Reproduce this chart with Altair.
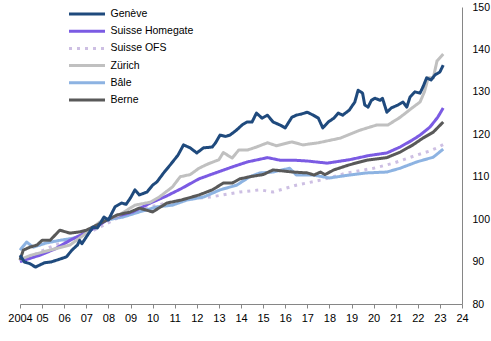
import altair as alt
import pandas as pd

series_names = ["Genève", "Suisse Homegate", "Suisse OFS", "Zürich", "Bâle", "Berne"]
series_colors = ["#1F4A7D", "#7B5BE3", "#CDBFE3", "#C0C0C0", "#8DB3E2", "#595959"]
series_dash = [[1, 0], [1, 0], [3, 5], [1, 0], [1, 0], [1, 0]]

geneve_t = [2004.0, 2004.2, 2004.45, 2004.7, 2005.1, 2005.4, 2005.7, 2006.1, 2006.35, 2006.6, 2006.7, 2006.8,
            2007.0, 2007.3, 2007.5, 2007.8, 2008.0, 2008.3, 2008.6, 2008.8, 2009.0, 2009.2, 2009.4, 2009.75,
            2010.0, 2010.2, 2010.5, 2010.8, 2011.15, 2011.4, 2011.7, 2012.0, 2012.3, 2012.7, 2012.85, 2013.05,
            2013.3, 2013.5, 2013.8, 2014.05, 2014.27, 2014.5, 2014.7, 2014.95, 2015.2, 2015.45, 2015.76, 2016.0,
            2016.3, 2016.5, 2016.75, 2017.0, 2017.27, 2017.5, 2017.7, 2017.95, 2018.2, 2018.4, 2018.6, 2018.9,
            2019.15, 2019.3, 2019.5, 2019.6, 2019.75, 2019.9, 2020.06, 2020.3, 2020.4, 2020.6, 2020.8, 2021.1,
            2021.33, 2021.5, 2021.65, 2021.87, 2022.1, 2022.23, 2022.4, 2022.6, 2022.78, 2023.0, 2023.15]
geneve_v = [91.5, 89.9, 89.5, 88.7, 89.7, 89.9, 90.4, 91.1, 92.7, 93.9, 95.0, 94.2,
            95.8, 98.1, 97.9, 100.5, 99.8, 102.9, 103.8, 103.5, 105.0, 106.9, 105.7, 106.4,
            108.0, 108.8, 110.9, 112.8, 115.1, 117.5, 116.8, 115.6, 116.8, 117.0, 118.0, 119.8,
            119.5, 119.8, 121.0, 122.2, 122.9, 122.9, 125.0, 123.8, 124.5, 122.9, 122.2, 121.5,
            124.0, 124.5, 124.8, 125.2, 124.5, 123.8, 121.5, 122.9, 123.8, 125.0, 124.5, 125.7,
            127.6, 130.4, 129.7, 126.9, 126.4, 128.0, 128.5, 128.0, 128.5, 125.2, 126.2, 126.9,
            127.6, 126.4, 128.8, 130.0, 129.7, 131.1, 133.3, 132.8, 134.0, 134.7, 136.3]

homegate_t = [2004.0, 2004.9, 2005.6, 2006.26, 2007.2, 2008.1, 2009.1, 2009.9, 2010.65, 2011.3, 2012.1, 2012.9,
              2013.6, 2014.3, 2015.2, 2015.76, 2016.35, 2017.0, 2017.9, 2018.9, 2019.8, 2020.6, 2021.2, 2021.74,
              2022.1, 2022.55, 2022.9, 2023.15]
homegate_v = [90.0, 91.5, 93.0, 95.0, 97.4, 100.3, 101.7, 103.8, 105.5, 107.2, 109.5, 111.0,
              112.3, 113.5, 114.5, 113.9, 113.9, 113.7, 113.2, 114.0, 115.0, 115.6, 117.0, 118.6,
              119.8, 121.7, 124.0, 126.2]

ofs_t = [2004.0, 2005.36, 2007.2, 2008.5, 2009.9, 2011.2, 2012.6, 2013.95, 2014.86, 2015.45, 2016.5, 2017.6,
         2018.8, 2020.0, 2020.9, 2021.96, 2022.5, 2022.87, 2023.3]
ofs_v = [90.0, 93.4, 97.0, 100.5, 102.9, 104.5, 105.2, 106.4, 106.9, 106.4, 108.0, 109.2,
         110.9, 112.0, 113.2, 115.1, 116.0, 116.8, 118.0]

zurich_t = [2004.0, 2004.5, 2005.36, 2006.26, 2006.9, 2007.6, 2008.5, 2009.2, 2009.9, 2010.3, 2010.9, 2011.25,
            2011.7, 2012.1, 2012.5, 2013.0, 2013.2, 2013.6, 2013.9, 2014.3, 2014.7, 2015.2, 2015.6, 2016.3,
            2016.8, 2017.5, 2018.5, 2019.4, 2020.15, 2020.65, 2021.2, 2021.74, 2022.1, 2022.3, 2022.47, 2022.7,
            2022.87, 2023.15]
zurich_v = [90.5, 91.5, 92.7, 93.9, 96.3, 99.3, 101.0, 103.3, 104.0, 105.2, 107.6, 110.0,
            110.5, 112.0, 113.0, 114.0, 115.7, 114.4, 116.3, 116.3, 117.0, 118.0, 117.3, 118.2,
            117.5, 118.0, 119.1, 121.0, 122.2, 122.2, 124.0, 126.2, 127.6, 130.0, 133.3, 133.3,
            137.3, 138.9]

bale_t = [2004.0, 2004.3, 2004.6, 2005.2, 2005.8, 2006.4, 2006.85, 2007.3, 2007.94, 2008.66, 2009.4, 2010.2,
          2010.9, 2011.55, 2012.3, 2013.05, 2013.8, 2014.4, 2014.86, 2015.45, 2016.2, 2016.5, 2017.27, 2018.0,
          2018.9, 2019.7, 2020.6, 2021.2, 2021.96, 2022.7, 2023.15]
bale_v = [92.7, 94.6, 93.4, 94.4, 95.0, 95.5, 96.3, 98.1, 99.8, 100.5, 101.7, 102.9,
          103.3, 104.5, 105.2, 106.9, 108.0, 110.0, 110.9, 111.1, 112.0, 110.4, 110.4, 109.7,
          110.4, 110.9, 111.1, 112.0, 113.5, 114.6, 116.5]

berne_t = [2004.0, 2004.15, 2004.45, 2004.77, 2005.0, 2005.36, 2005.8, 2006.26, 2006.7, 2007.0, 2007.48, 2007.94,
           2008.4, 2009.0, 2009.4, 2010.0, 2010.65, 2011.3, 2012.1, 2012.7, 2013.2, 2013.6, 2013.95, 2014.4,
           2015.0, 2015.45, 2016.35, 2017.0, 2017.3, 2017.6, 2017.8, 2018.2, 2018.9, 2019.7, 2020.6, 2021.2,
           2021.78, 2022.23, 2022.7, 2023.15]
berne_v = [90.4, 92.7, 93.4, 93.9, 95.0, 95.0, 97.4, 96.7, 97.0, 97.4, 98.6, 99.8,
           101.0, 101.7, 102.6, 101.7, 103.8, 104.5, 105.7, 106.9, 108.5, 108.5, 109.5, 110.0,
           110.5, 111.6, 111.1, 110.9, 110.4, 111.1, 110.5, 111.6, 112.8, 113.9, 114.5, 115.8,
           117.5, 119.1, 120.5, 122.9]

x_ticks = list(range(2004, 2025))
y_ticks = list(range(80, 151, 10))

# draw order: later rows drawn on top
series_data = [
    ("Suisse OFS", ofs_t, ofs_v),
    ("Bâle", bale_t, bale_v),
    ("Suisse Homegate", homegate_t, homegate_v),
    ("Zürich", zurich_t, zurich_v),
    ("Berne", berne_t, berne_v),
    ("Genève", geneve_t, geneve_v),
]
rows = []
for order, (name, ts, vs) in enumerate(series_data):
    for t, v in zip(ts, vs):
        rows.append({"series": name, "t": t, "v": v, "o": order})
df = pd.DataFrame(rows)

chart = alt.Chart(df).mark_line(strokeWidth=3, strokeCap="butt", strokeJoin="round").encode(
    x=alt.X("t:Q", scale=alt.Scale(domain=[2004, 2024], nice=False, zero=False),
            axis=alt.Axis(values=x_ticks, title=None, grid=False,
                          labelExpr="datum.value == 2004 ? '2004' : substring(toString(datum.value), 2)",
                          labelFont="Liberation Sans", labelFontSize=11, labelColor="#000000",
                          domainColor="#868686", tickColor="#868686", tickSize=4, labelPadding=4,
                          labelFlush=False, labelOverlap=False)),
    y=alt.Y("v:Q", scale=alt.Scale(domain=[80, 150], nice=False, zero=False),
            axis=alt.Axis(values=y_ticks, orient="right", title=None, grid=False, ticks=False,
                          labelFont="Liberation Sans", labelFontSize=10.5, labelColor="#000000",
                          domainColor="#868686", labelPadding=10, labelAlign="left")),
    color=alt.Color("series:N", scale=alt.Scale(domain=series_names, range=series_colors), title=None),
    strokeDash=alt.StrokeDash("series:N", scale=alt.Scale(domain=series_names, range=series_dash), title=None),
    order=alt.Order("o:Q"),
).properties(
    width=442, height=297,
    autosize=alt.AutoSizeParams(type="none"),
    padding={"left": 20, "top": 7, "right": 29, "bottom": 37},
).configure_view(stroke=None).configure_legend(
    orient="none", legendX=61, legendY=1, padding=0,
    symbolType="M-4,0H4", symbolSize=81, symbolStrokeWidth=3,
    labelFont="Liberation Sans", labelFontSize=10.5, labelColor="#000000",
    labelOffset=17.5, rowPadding=5.2, labelLimit=200,
)

chart.save("out.html", embed_options={"renderer": "svg", "actions": False})
